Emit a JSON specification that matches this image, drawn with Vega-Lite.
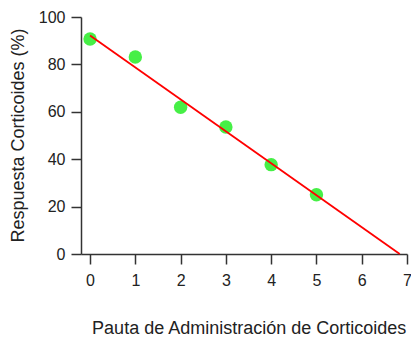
{
  "$schema": "https://vega.github.io/schema/vega-lite/v6.json",
  "autosize": "none",
  "width": 326,
  "height": 237,
  "padding": {"left": 81, "top": 17, "right": 4, "bottom": 83},
  "background": "white",
  "config": {
    "view": {"stroke": null},
    "font": "Liberation Sans",
    "axis": {
      "grid": false,
      "domainColor": "#333333",
      "tickColor": "#333333",
      "domainWidth": 1.5,
      "tickWidth": 1.5,
      "tickSize": 10,
      "labelFont": "Liberation Sans",
      "labelFontSize": 16,
      "labelColor": "#222222",
      "titleFont": "Liberation Sans",
      "titleFontSize": 18,
      "titleFontWeight": "normal",
      "titleColor": "#222222"
    }
  },
  "datasets": {
    "pts": [
      {"pauta": 0, "respuesta": 90.7},
      {"pauta": 1, "respuesta": 83.1},
      {"pauta": 2, "respuesta": 61.9},
      {"pauta": 3, "respuesta": 53.6},
      {"pauta": 4, "respuesta": 37.7},
      {"pauta": 5, "respuesta": 25.0}
    ],
    "fit": [
      {"pauta": 0, "respuesta": 92.2},
      {"pauta": 6.84, "respuesta": 0}
    ]
  },
  "layer": [
    {
      "data": {"name": "pts"},
      "mark": {"type": "circle", "size": 180, "color": "#46ef46", "opacity": 1},
      "encoding": {
        "x": {
          "field": "pauta", "type": "quantitative",
          "scale": {"domain": [-0.2, 7], "nice": false, "zero": false},
          "axis": {
            "values": [0, 1, 2, 3, 4, 5, 6, 7],
            "labelPadding": 8,
            "title": "Pauta de Administración de Corticoides",
            "titleX": 167.7,
            "titleY": 79,
            "titleBaseline": "alphabetic",
            "titleAnchor": "middle",
            "titleAlign": "center",
            "labelFlush": false
          }
        },
        "y": {
          "field": "respuesta", "type": "quantitative",
          "scale": {"domain": [0, 100], "nice": false},
          "axis": {
            "values": [0, 20, 40, 60, 80, 100],
            "labelPadding": 6,
            "title": "Respuesta Corticoides (%)",
            "titleX": -63,
            "titleY": 118,
            "titleAngle": -90,
            "titleBaseline": "middle",
            "titleAlign": "center",
            "labelFlush": false
          }
        }
      }
    },
    {
      "data": {"name": "fit"},
      "mark": {"type": "line", "color": "#ff0000", "strokeWidth": 1.8},
      "encoding": {
        "x": {"field": "pauta", "type": "quantitative"},
        "y": {"field": "respuesta", "type": "quantitative"}
      }
    }
  ]
}
